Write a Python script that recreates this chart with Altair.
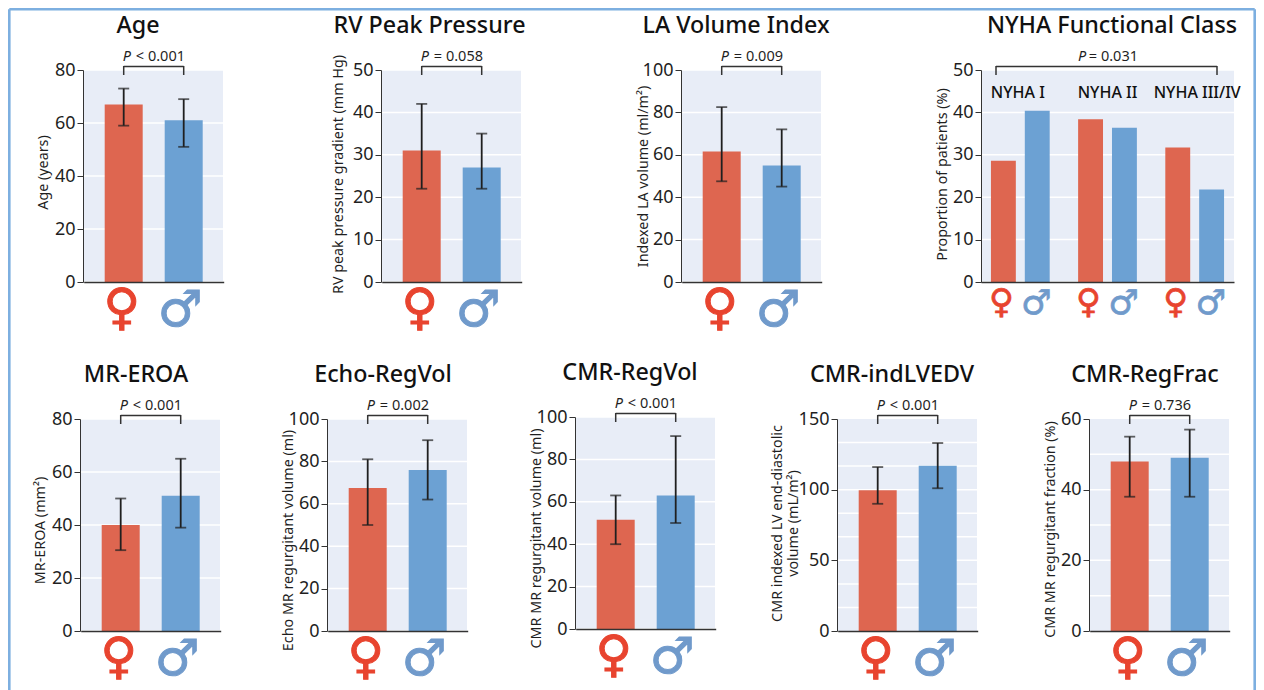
import altair as alt
import pandas as pd

sexes = ["Female", "Male"]
glyphs = ["♀", "♂"]

age_mean = [67, 61]
age_low = [59, 51]
age_high = [73, 69]
rv_mean = [31, 27]
rv_low = [22, 22]
rv_high = [42, 35]
la_mean = [61.5, 55]
la_low = [47.5, 45]
la_high = [82.5, 72]
eroa_mean = [40, 51]
eroa_low = [30.5, 39]
eroa_high = [50, 65]
echo_mean = [67.5, 76]
echo_low = [50, 62]
echo_high = [81, 90]
regvol_mean = [51.5, 63]
regvol_low = [40, 50]
regvol_high = [63, 91]
lvedv_mean = [99.5, 117]
lvedv_low = [90, 101]
lvedv_high = [116, 133]
regfrac_mean = [48, 49]
regfrac_low = [38, 38]
regfrac_high = [55, 57]

nyha_groups = ["NYHA I", "NYHA II", "NYHA III/IV"]
nyha_female = [28.6, 38.4, 31.7]
nyha_male = [40.4, 36.4, 21.8]

ticks_80 = [0, 20, 40, 60, 80]
ticks_50 = [0, 10, 20, 30, 40, 50]
ticks_100 = [0, 20, 40, 60, 80, 100]
ticks_150 = [0, 50, 100, 150]
ticks_60 = [0, 20, 40, 60]
grid_lvedv = [16.67, 33.33, 50, 66.67, 83.33, 100, 116.67, 133.33]
grid_regfrac = [10, 20, 30, 40, 50]

FONT = "Noto Sans"
INK = "#1f1f1f"
PLOT_BG = "#e8edf7"
RED = "#de6650"
BLUE = "#6ca1d3"
RED_SYM = "#e8442f"
BLUE_SYM = "#709acb"
FRAME = "#7dafe0"
W, H = 140, 212


def common_layers(title, title_x, p_rel, p_val, p_left, p_right, plot_w, shift):
    top = alt.Data(values=[{"a": 1}])
    bg = alt.Chart(top).mark_rect(color=PLOT_BG).encode(
        x=alt.value(0), x2=alt.value(plot_w), y=alt.value(shift), y2=alt.value(H + shift))
    head = alt.Chart(top).mark_text(
        text=title, font=FONT, fontSize=23.3, fontWeight=500, color="#111", baseline="alphabetic", align="center"
    ).encode(x=alt.value(title_x), y=alt.value(-37 + shift))
    p1 = alt.Chart(top).mark_text(
        text="P", font=FONT, fontSize=14.5, fontStyle="italic", color=INK, align="left", baseline="middle"
    ).encode(x=alt.value(p_left - 1), y=alt.value(-13 + shift))
    p2 = alt.Chart(top).mark_text(
        text=f"{p_rel} {p_val}", font=FONT, fontSize=14.5, color=INK, align="right", baseline="middle"
    ).encode(x=alt.value(p_right + 1), y=alt.value(-13 + shift))
    return bg, head, p1, p2


def y_axis(title, ticks, tx, ty):
    return alt.Axis(values=ticks, title=title, titleX=tx, titleY=ty, titleBaseline="middle", titleFont=FONT,
                    titleFontSize=14.3, titleFontWeight="normal", titleColor=INK, titleLineHeight=16,
                    labelFont=FONT, labelFontSize=18, labelColor=INK, labelPadding=2, labelOverlap=False,
                    labelFlush=False, tickSize=6, tickColor="#333", domainColor="#333", grid=False, zindex=1)


def x_axis(shift=0):
    return alt.Axis(labels=False, ticks=False, title=None, domainColor="#333", domainWidth=1.5, zindex=1, offset=shift)


def panel(cell_w, title, title_x, ytitle, tx, ty, mean, low, high, ymax, ticks, grid, p_rel, p_val, shift=0):
    df = pd.DataFrame({"sex": sexes, "mean": mean, "low": low, "high": high, "glyph": glyphs})
    xscale = alt.Scale(domain=sexes, range=[0.7, W + 0.7], paddingInner=0.3667, paddingOuter=0.35)
    yscale = alt.Scale(domain=[0, ymax], range=[H + shift, shift], nice=False)
    yax = y_axis(ytitle, ticks, tx, ty)
    x = alt.X("sex:N", scale=xscale, axis=x_axis(shift), sort=sexes)
    yq = lambda f: alt.Y(f, type="quantitative", scale=yscale, axis=yax)
    bg, head, p1, p2 = common_layers(title, title_x, p_rel, p_val, 40.7, 101, W, shift)
    gridl = alt.Chart(pd.DataFrame({"g": grid})).mark_rule(color="white", strokeWidth=1.5).encode(
        x=alt.value(0), x2=alt.value(W), y=yq("g"))
    bars = alt.Chart(df).mark_bar(size=38).encode(
        x=x, y=yq("mean"),
        color=alt.Color("sex:N", scale=alt.Scale(domain=sexes, range=[RED, BLUE]), legend=None),
    )
    whisk = alt.Chart(df).mark_rule(color=INK, strokeWidth=1.8).encode(x=x, y=yq("low"), y2="high:Q")
    cap_l = alt.Chart(df).mark_tick(color=INK, size=11, thickness=1.8).encode(x=x, y=yq("low"))
    cap_h = alt.Chart(df).mark_tick(color=INK, size=11, thickness=1.8).encode(x=x, y=yq("high"))
    br_h = alt.Chart(df).mark_line(color="#333", strokeWidth=1.5).encode(x=x, y=alt.value(-3.5 + shift))
    br_v = alt.Chart(df).mark_rule(color="#333", strokeWidth=1.5).encode(
        x=x, y=alt.value(-4 + shift), y2=alt.value(5 + shift))
    sym_f = alt.Chart(df[df.sex == "Female"]).mark_text(
        font="DejaVu Sans", fontSize=50, color=RED_SYM, stroke=RED_SYM, strokeWidth=1, baseline="middle", dx=-2
    ).encode(x=x, y=alt.value(H + 27 + shift), text="glyph:N")
    sym_m = alt.Chart(df[df.sex == "Male"]).mark_text(
        font="DejaVu Sans", fontSize=50, color=BLUE_SYM, stroke=BLUE_SYM, strokeWidth=1, baseline="middle", dx=-3.5
    ).encode(x=x, y=alt.value(H + 29 + shift), text="glyph:N")
    return alt.layer(bg, gridl, bars, whisk, cap_l, cap_h, br_h, br_v, p1, p2, head, sym_f, sym_m).properties(
        width=cell_w, height=H)


def nyha_panel(cell_w):
    nw = 253
    df = pd.DataFrame({
        "group": nyha_groups * 2,
        "sex": ["Female"] * 3 + ["Male"] * 3,
        "value": nyha_female + nyha_male,
        "glyph": ["♀"] * 3 + ["♂"] * 3,
    })
    xscale = alt.Scale(domain=nyha_groups, paddingInner=0.326, paddingOuter=0.114)
    x = alt.X("group:N", scale=xscale, axis=x_axis(), sort=nyha_groups)
    xo = alt.XOffset("sex:N", scale=alt.Scale(domain=sexes, paddingInner=0.265, paddingOuter=0), sort=sexes)
    yscale = alt.Scale(domain=[0, 50], range=[H, 0], nice=False)
    yax = y_axis("Proportion of patients (%)", ticks_50, -39, 104)
    bg, head, p1, p2 = common_layers("NYHA Functional Class", 131, "=", "0.031", 98, 156, nw, 0)
    gridl = alt.Chart(pd.DataFrame({"g": ticks_50})).mark_rule(color="white", strokeWidth=1.5).encode(
        x=alt.value(0), x2=alt.value(nw), y=alt.Y("g:Q", scale=yscale, axis=yax))
    bars = alt.Chart(df).mark_bar().encode(
        x=x, xOffset=xo,
        y=alt.Y("value:Q", scale=yscale, axis=yax),
        color=alt.Color("sex:N", scale=alt.Scale(domain=sexes, range=[RED, BLUE]), legend=None),
    )
    one = alt.Data(values=[{"a": 1}])
    br_h = alt.Chart(one).mark_rule(color="#333", strokeWidth=1.5).encode(
        x=alt.value(15), x2=alt.value(236), y=alt.value(-3.5))
    br_v1 = alt.Chart(one).mark_rule(color="#333", strokeWidth=1.5).encode(
        x=alt.value(15), y=alt.value(-4), y2=alt.value(5))
    br_v2 = alt.Chart(one).mark_rule(color="#333", strokeWidth=1.5).encode(
        x=alt.value(236), y=alt.value(-4), y2=alt.value(5))
    labels = [
        alt.Chart(pd.DataFrame({"group": [g]})).mark_text(
            font=FONT, fontSize=16, fontWeight=500, color="#111", baseline="middle", dx=d
        ).encode(x=x, y=alt.value(23), text="group:N")
        for g, d in zip(nyha_groups, [-2.5, 0, 2.5])
    ]
    sym_f = alt.Chart(df[df.sex == "Female"]).mark_text(
        font="DejaVu Sans", fontSize=34, color=RED_SYM, stroke=RED_SYM, strokeWidth=0.7, baseline="middle", dx=-2
    ).encode(x=x, xOffset=xo, y=alt.value(H + 21), text="glyph:N")
    sym_m = alt.Chart(df[df.sex == "Male"]).mark_text(
        font="DejaVu Sans", fontSize=34, color=BLUE_SYM, stroke=BLUE_SYM, strokeWidth=0.7, baseline="middle", dx=-1
    ).encode(x=x, xOffset=xo, y=alt.value(H + 22), text="glyph:N")
    return alt.layer(bg, gridl, bars, br_h, br_v1, br_v2, *labels, p1, p2, head, sym_f, sym_m).properties(
        width=cell_w, height=H)


one = alt.Data(values=[{"a": 1}])
f_left = alt.Chart(one).mark_rule(color=FRAME, strokeWidth=2.6).encode(
    x=alt.value(-70.7), y=alt.value(-60.7), y2=alt.value(620))
f_right = alt.Chart(one).mark_rule(color=FRAME, strokeWidth=2.6).encode(
    x=alt.value(1174.7), y=alt.value(-60.7), y2=alt.value(620))
f_top = alt.Chart(one).mark_rule(color=FRAME, strokeWidth=2.6).encode(
    x=alt.value(-70.7), x2=alt.value(1174.7), y=alt.value(-60.7))
frame = alt.layer(f_left, f_right, f_top).properties(width=3, height=H)

row1 = alt.hconcat(
    frame,
    panel(297.5, "Age", 55, "Age (years)", -40, 102, age_mean, age_low, age_high, 80, ticks_80, ticks_80, "<", "0.001"),
    panel(299.5, "RV Peak Pressure", 48.5, "RV peak pressure gradient (mm Hg)", -43, 104,
          rv_mean, rv_low, rv_high, 50, ticks_50, ticks_50, "=", "0.058"),
    panel(300, "LA Volume Index", 55, "Indexed LA volume (ml/m²)", -38, 106,
          la_mean, la_low, la_high, 100, ticks_100, ticks_100, "=", "0.009"),
    nyha_panel(253),
    spacing=0, bounds="flush",
)
row2 = alt.hconcat(
    panel(247, "MR-EROA", 56, "MR-EROA (mm²)", -39.5, 111, eroa_mean, eroa_low, eroa_high, 80, ticks_80, ticks_80, "<", "0.001"),
    panel(248, "Echo-RegVol", 56, "Echo MR regurgitant volume (ml)", -39, 121,
          echo_mean, echo_low, echo_high, 100, ticks_100, ticks_100, "=", "0.002"),
    panel(262, "CMR-RegVol", 55, "CMR MR regurgitant volume (ml)", -39, 119,
          regvol_mean, regvol_low, regvol_high, 100, ticks_100, ticks_100, "<", "0.001", shift=-2),
    panel(252, "CMR-indLVEDV", 55, ["CMR indexed LV end-diastolic", "volume (mL/m²)"], -60, 104,
          lvedv_mean, lvedv_low, lvedv_high, 150, ticks_150, grid_lvedv, "<", "0.001"),
    panel(140, "CMR-RegFrac", 56, "CMR MR regurgitant fraction (%)", -39, 110,
          regfrac_mean, regfrac_low, regfrac_high, 60, ticks_60, grid_regfrac, "=", "0.736"),
    spacing=0, bounds="flush",
)

chart = alt.vconcat(row1, row2, spacing=349, bounds="flush").properties(
    padding=0, background="white").configure_view(stroke=None)

chart.save("out.html", embed_options={"renderer": "svg", "actions": False})
